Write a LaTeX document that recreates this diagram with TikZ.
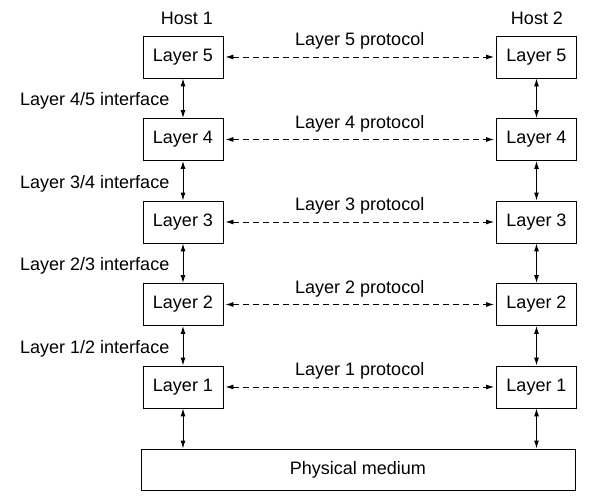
\documentclass[tikz,border=0pt]{standalone}
\usepackage{fontspec}
\setmainfont{Liberation Sans}
\usetikzlibrary{arrows.meta}

\begin{document}
\begin{tikzpicture}[x=1pt, y=1pt, font=\fontsize{18}{21}\selectfont,
    layerbox/.style={draw, line width=0.9pt, minimum width=80pt, minimum height=42pt, inner sep=0pt},
    peer/.style={dash pattern=on 6pt off 4pt, line width=0.9pt, shorten <=2pt, shorten >=2pt, {Latex[length=8pt,width=5pt]}-{Latex[length=8pt,width=5pt]}},
    iface/.style={line width=1pt, {Latex[length=8pt,width=5pt]}-{Latex[length=8pt,width=5pt]}}]
    \useasboundingbox (0,0) rectangle (610,502);

    \node (host1) at (187,484) {Host 1};
    \node (host2) at (537,484) {Host 2};

    \foreach \i in {1,...,5} {
        \node[layerbox] (L\i) at (183, {115+82.5*(\i-1)}) {Layer \i};
        \node[layerbox] (R\i) at (536.5, {115+82.5*(\i-1)}) {Layer \i};
        \draw[peer] (L\i) -- (R\i) node[midway, yshift=16pt] (proto\i) {Layer \i\ protocol};
    }

    \foreach \i/\j in {1/2, 2/3, 3/4, 4/5} {
        \draw[iface] (L\i) -- (L\j);
        \draw[iface] (R\i) -- (R\j);
        \node[anchor=west, inner sep=0pt] (if\i) at (20, {115+82.5*(\i-1)+38.5}) {Layer \i/\j\ interface};
    }

    \node[draw, line width=0.9pt, minimum width=434pt, minimum height=41pt, inner sep=0pt] (phys) at (358,32.5) {Physical medium};
    \draw[iface] (L1.south) -- (L1.south |- phys.north);
    \draw[iface] (R1.south) -- (R1.south |- phys.north);
\end{tikzpicture}
\end{document}
